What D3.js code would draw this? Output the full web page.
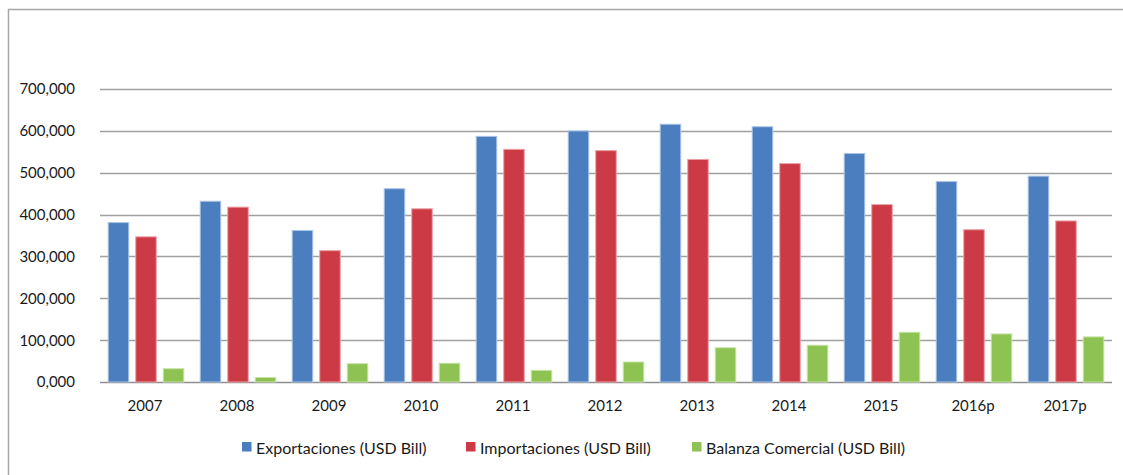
<!DOCTYPE html>
<html>
<head>
<meta charset="utf-8">
<script src="https://cdn.jsdelivr.net/npm/d3@7"></script>
<style>
  html, body { margin: 0; padding: 0; background: #fff; }
  svg { display: block; }
  text { font-family: Lato, "Open Sans", sans-serif; fill: #1a1a1a; }
</style>
</head>
<body>
<svg id="chart" width="1123" height="475"></svg>
<script>
// ---- data (values in thousands as labelled on the axis) ----
const categories = ["2007","2008","2009","2010","2011","2012","2013","2014","2015","2016p","2017p"];
const exportaciones = [382, 433, 363, 463, 588, 601, 617, 611, 547, 480, 493];
const importaciones = [348, 419, 315, 415, 557, 554, 533, 523, 425, 365, 386];
const balanza       = [33, 12, 45, 46, 29, 49, 83, 89, 120, 116, 109];
const seriesNames = ["Exportaciones (USD Bill)", "Importaciones (USD Bill)", "Balanza Comercial (USD Bill)"];
const yTicks = [0, 100, 200, 300, 400, 500, 600, 700];
const yTickLabels = ["0,000","100,000","200,000","300,000","400,000","500,000","600,000","700,000"];

const colors = ["#4a7ebf", "#cc3b45", "#8ec253"];
const strokes = ["#a9c3e6", "#eaa0a6", "#c7e3a8"];
const seriesValues = [exportaciones, importaciones, balanza];

const svg = d3.select("#chart");

// frame (top and left edges)
svg.append("line").attr("x1", 8).attr("x2", 1123).attr("y1", 9.5).attr("y2", 9.5)
  .attr("stroke", "#a8a8a8").attr("stroke-width", 1.5);
svg.append("line").attr("x1", 8.5).attr("x2", 8.5).attr("y1", 9).attr("y2", 475)
  .attr("stroke", "#a8a8a8").attr("stroke-width", 1.5);

const x = d3.scaleBand().domain(categories).range([100, 1112]).paddingInner(0).paddingOuter(0);
const xs = d3.scaleBand().domain(d3.range(3)).range([0, x.bandwidth()]).paddingInner(0.218).paddingOuter(0.28);
const y = d3.scaleLinear().domain([0, 700]).range([382, 89]);

// gridlines
svg.append("g").selectAll("line").data(yTicks).join("line")
  .attr("x1", 100).attr("x2", 1112)
  .attr("y1", d => Math.round(y(d)) + 0.5).attr("y2", d => Math.round(y(d)) + 0.5)
  .attr("stroke", d => d === 0 ? "#8f8f8f" : "#a0a0a0").attr("stroke-width", 1.3);

// y labels
svg.append("g").selectAll("text").data(yTicks).join("text")
  .attr("x", 75).attr("y", d => y(d)).attr("dy", "0.36em")
  .attr("text-anchor", "end").attr("font-size", 15)
  .text((d, i) => yTickLabels[i]);

// bars
const groups = svg.append("g").selectAll("g").data(categories).join("g")
  .attr("transform", d => `translate(${x(d)},0)`);
groups.selectAll("rect").data((d, i) => seriesValues.map((s, k) => ({k, v: s[i]}))).join("rect")
  .attr("x", d => xs(d.k) + 0.5)
  .attr("width", xs.bandwidth() - 1)
  .attr("y", d => y(d.v) + 0.5)
  .attr("height", d => y(0) - y(d.v) - 0.5)
  .attr("fill", d => colors[d.k])
  .attr("stroke", d => strokes[d.k])
  .attr("stroke-width", 1);

// x labels
svg.append("g").selectAll("text").data(categories).join("text")
  .attr("x", d => x(d) + x.bandwidth() / 2 - 1).attr("y", 411)
  .attr("text-anchor", "middle").attr("font-size", 15)
  .text(d => d);

// legend
const legendX = [242, 466, 692];
const leg = svg.append("g").selectAll("g").data(seriesNames).join("g")
  .attr("transform", (d, i) => `translate(${legendX[i]},0)`);
leg.append("rect").attr("x", 0).attr("y", 442).attr("width", 9.5).attr("height", 9.5)
  .attr("fill", (d, i) => colors[i]);
leg.append("text").attr("x", 14).attr("y", 453.5).attr("font-size", 16).text(d => d);
</script>
</body>
</html>
